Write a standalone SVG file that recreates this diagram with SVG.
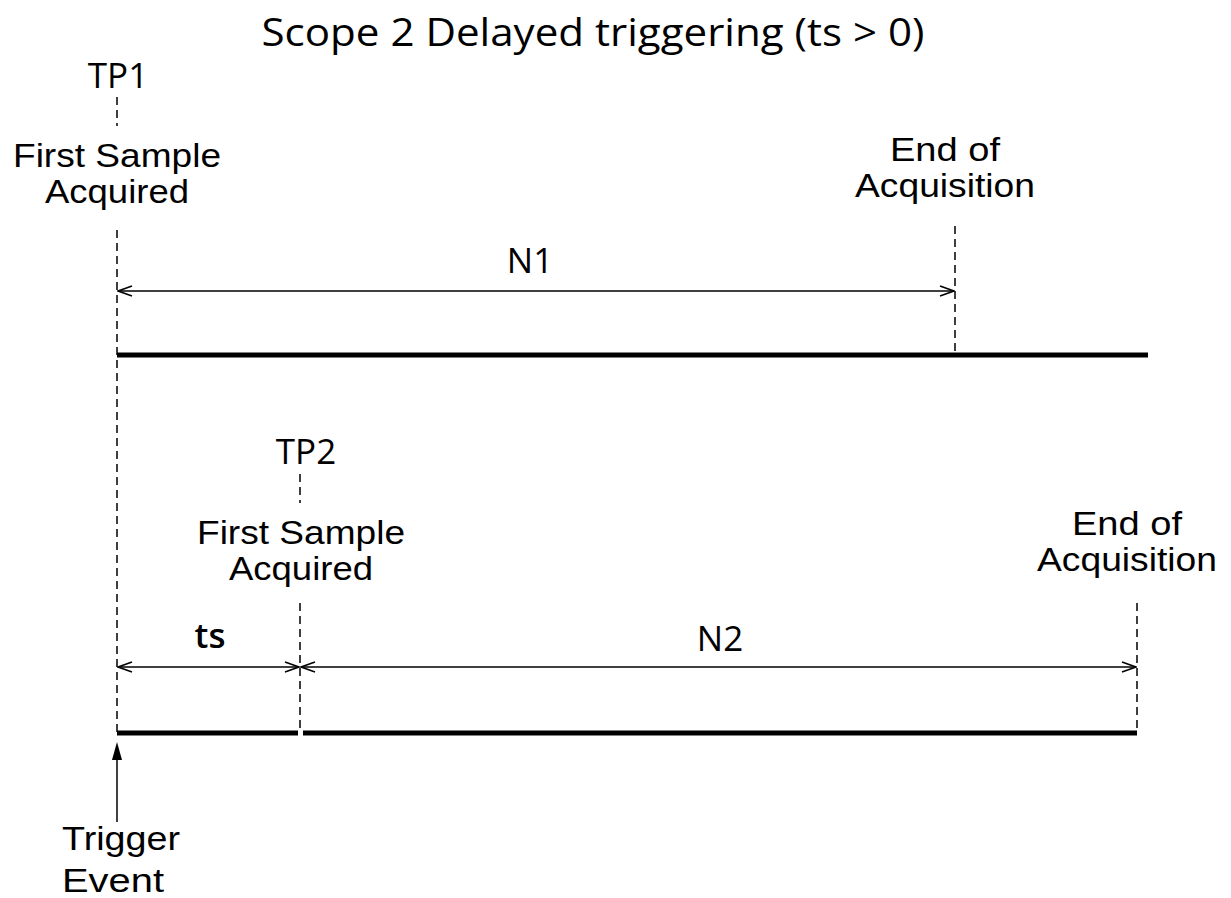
<svg xmlns="http://www.w3.org/2000/svg" width="1231" height="898" viewBox="0 0 1231 898">
<style>
.lbl{font-family:"Liberation Sans",Arial,sans-serif;font-size:34px;fill:#000;text-anchor:middle}
.cal{font-family:"Open Sans","Noto Sans",sans-serif;font-size:35px;fill:#000;text-anchor:middle}
.dash{stroke:#000;stroke-width:1.5;stroke-dasharray:8 5;fill:none}
.dim{stroke:#000;stroke-width:1.5;fill:none}
.bar{stroke:#000;stroke-width:5;fill:none}
</style>
<defs>
<marker id="open" markerWidth="16" markerHeight="12" refX="15" refY="6" orient="auto-start-reverse" markerUnits="userSpaceOnUse">
<path d="M1,1 L15,6 L1,11" fill="none" stroke="#000" stroke-width="1.5"/>
</marker>
</defs>
<text x="593" y="46" font-family="'Open Sans','Noto Sans',sans-serif" font-size="38" textLength="663" lengthAdjust="spacingAndGlyphs" text-anchor="middle" fill="#000">Scope 2 Delayed triggering (ts &gt; 0)</text>
<g id="tp1">
<text class="cal" x="118" y="88">TP1</text>
<line class="dash" x1="117" y1="97" x2="117" y2="126"/>
<text class="lbl" x="117" y="167" textLength="208" lengthAdjust="spacingAndGlyphs">First Sample</text>
<text class="lbl" x="117" y="203" textLength="144" lengthAdjust="spacingAndGlyphs">Acquired</text>
</g>
<g id="end1">
<text class="lbl" x="945" y="161" textLength="110" lengthAdjust="spacingAndGlyphs">End of</text>
<text class="lbl" x="945" y="197" textLength="180" lengthAdjust="spacingAndGlyphs">Acquisition</text>
</g>
<g id="tp2">
<text class="cal" x="306" y="464">TP2</text>
<line class="dash" x1="300" y1="474" x2="300" y2="503"/>
<text class="lbl" x="301" y="544" textLength="208" lengthAdjust="spacingAndGlyphs">First Sample</text>
<text class="lbl" x="301" y="580" textLength="144" lengthAdjust="spacingAndGlyphs">Acquired</text>
</g>
<g id="end2">
<text class="lbl" x="1127" y="535" textLength="110" lengthAdjust="spacingAndGlyphs">End of</text>
<text class="lbl" x="1127" y="571" textLength="180" lengthAdjust="spacingAndGlyphs">Acquisition</text>
</g>
<g id="trigger">
<text class="lbl" x="121" y="850" textLength="118" lengthAdjust="spacingAndGlyphs">Trigger</text>
<text class="lbl" x="113" y="892" textLength="102" lengthAdjust="spacingAndGlyphs">Event</text>
</g>
<g id="timeline1">
<line class="bar" x1="117" y1="355" x2="1148" y2="355"/>
</g>
<g id="timeline2">
<line class="bar" x1="117" y1="733" x2="298" y2="733"/>
<line class="bar" x1="303" y1="733" x2="1137" y2="733"/>
</g>
<g id="connectors">
<line class="dash" x1="117" y1="230" x2="117" y2="733"/>
<line class="dash" x1="955" y1="226" x2="955" y2="355"/>
<line class="dash" x1="300" y1="603" x2="300" y2="733"/>
<line class="dash" x1="1137" y1="603" x2="1137" y2="733"/>
<line class="dim" x1="118" y1="291" x2="954" y2="291" marker-start="url(#open)" marker-end="url(#open)"/>
<line class="dim" x1="118" y1="667" x2="299" y2="667" marker-start="url(#open)" marker-end="url(#open)"/>
<line class="dim" x1="301" y1="667" x2="1136" y2="667" marker-start="url(#open)" marker-end="url(#open)"/>
<line stroke="#000" stroke-width="1.5" x1="117" y1="822" x2="117" y2="758"/>
<path d="M117,742 L122,760 L112,760 Z" fill="#000"/>
<text class="cal" x="530" y="273">N1</text>
<text class="cal" x="210" y="648" font-weight="600">ts</text>
<text class="cal" x="720" y="651">N2</text>
</g>
</svg>
